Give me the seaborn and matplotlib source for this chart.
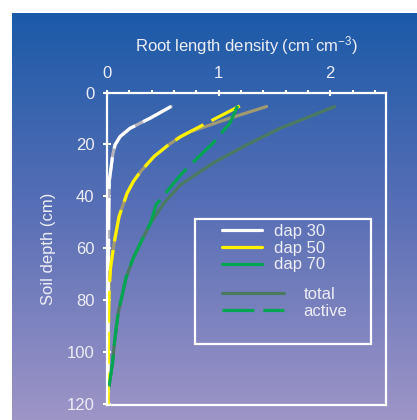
import numpy as np
import pandas as pd
import matplotlib
matplotlib.use('Agg')
import matplotlib.pyplot as plt
import seaborn as sns
from matplotlib.colors import LinearSegmentedColormap
from matplotlib.lines import Line2D
from matplotlib.patches import Rectangle

# values: root length density (cm cm-3) vs soil depth (cm)
DAP30_TOTAL_RLD = [0.574, 0.386, 0.206, 0.117, 0.072, 0.051, 0.036, 0.02, 0.015, 0.012, 0.01, 0.01]
DAP30_TOTAL_DEPTH = [5.4, 9.9, 13.8, 17, 20.2, 24, 29, 34.3, 50, 75, 100, 120]
DAP30_ACTIVE_RLD = DAP30_TOTAL_RLD
DAP30_ACTIVE_DEPTH = DAP30_TOTAL_DEPTH

DAP50_TOTAL_RLD = [1.43, 1.10, 0.74, 0.66, 0.55, 0.42, 0.30, 0.236, 0.18, 0.108, 0.069, 0.033, 0.02,
                   0.015, 0.012, 0.01]
DAP50_TOTAL_DEPTH = [5.4, 9.9, 15.2, 17, 20.2, 24.7, 30.5, 34.3, 38.8, 47.8, 56.7, 67, 75, 85, 100, 120]
DAP50_ACTIVE_RLD = [1.19, 0.86, 0.74, 0.66, 0.55, 0.42, 0.30, 0.236, 0.18, 0.108, 0.069, 0.033, 0.02,
                    0.015, 0.012, 0.01]
DAP50_ACTIVE_DEPTH = [5.2, 12.5, 15.2, 17, 20.2, 24.7, 30.5, 34.3, 38.8, 47.8, 56.7, 67, 75, 85, 100, 120]

DAP70_TOTAL_RLD = [2.04, 1.85, 1.55, 1.25, 0.95, 0.66, 0.51, 0.39, 0.30, 0.23, 0.17, 0.10, 0.07, 0.05, 0.012]
DAP70_TOTAL_DEPTH = [5.4, 8.7, 13.8, 20.2, 27.2, 35.5, 42.6, 50.3, 58, 64.4, 71.5, 85, 95, 104, 115]
DAP70_ACTIVE_RLD = [1.17, 1.10, 0.95, 0.84, 0.66, 0.53, 0.44, 0.39, 0.30, 0.23, 0.17, 0.10, 0.07, 0.05, 0.012]
DAP70_ACTIVE_DEPTH = [5.2, 11.9, 19.5, 24, 31.7, 38.5, 43.3, 50.3, 58, 64.4, 71.5, 85, 95, 104, 115]

X_TICKS = [0, 1, 2]
Y_TICKS = [0, 20, 40, 60, 80, 100, 120]

TXT = '#ededf5'
COLORS = {
    'dap 30 total': '#b4b4bc', 'dap 30 active': '#ffffff',
    'dap 50 total': '#a09a72', 'dap 50 active': '#fff200',
    'dap 70 total': '#4b7a62', 'dap 70 active': '#00a651',
}
LW = 2.3
DASH = (0, (10, 2.8))


def build_df():
    rows = []
    curves = [
        ('dap 30', 'total', DAP30_TOTAL_RLD, DAP30_TOTAL_DEPTH),
        ('dap 50', 'total', DAP50_TOTAL_RLD, DAP50_TOTAL_DEPTH),
        ('dap 70', 'total', DAP70_TOTAL_RLD, DAP70_TOTAL_DEPTH),
        ('dap 30', 'active', DAP30_ACTIVE_RLD, DAP30_ACTIVE_DEPTH),
        ('dap 50', 'active', DAP50_ACTIVE_RLD, DAP50_ACTIVE_DEPTH),
        ('dap 70', 'active', DAP70_ACTIVE_RLD, DAP70_ACTIVE_DEPTH),
    ]
    for dap, kind, xs, ys in curves:
        for x, y in zip(xs, ys):
            rows.append({'curve': dap + ' ' + kind, 'kind': kind, 'rld': x, 'depth': y})
    return pd.DataFrame(rows)


df = build_df()

sns.set_theme(style='ticks')
plt.rcParams['font.family'] = ['Liberation Sans', 'DejaVu Sans']
plt.rcParams['mathtext.fontset'] = 'custom'
plt.rcParams['mathtext.rm'] = 'Liberation Sans'
plt.rcParams['mathtext.it'] = 'Liberation Sans'

fig = plt.figure(figsize=(4.17, 4.20), dpi=100)
fig.patch.set_facecolor('white')

# gradient background panel
bg = fig.add_axes([12 / 417, 0, 405 / 417, 407 / 420], zorder=-5)
cmap = LinearSegmentedColormap.from_list('bg', ['#1b5aa8', '#5a70b6', '#9e95c7'])
bg.imshow(np.linspace(0, 1, 256).reshape(-1, 1), aspect='auto', cmap=cmap,
          extent=[0, 1, 0, 1], origin='upper')
bg.set_axis_off()

ax = fig.add_axes([107 / 417, 15 / 420, 279 / 417, 312.5 / 420])
ax.set_facecolor('none')

# totals first, actives dashed on top
for kind, ls in [('total', '-'), ('active', DASH)]:
    sub = df[df['kind'] == kind]
    for curve in sub['curve'].unique():
        sns.lineplot(ax=ax, data=sub[sub['curve'] == curve], x='rld', y='depth',
                     sort=False, estimator=None, color=COLORS[curve],
                     linestyle=ls, linewidth=LW, legend=False,
                     solid_joinstyle='round', dash_joinstyle='round')

ax.set_xlim(0, 2.5)
ax.set_ylim(120.4, 0)
ax.xaxis.tick_top()
ax.xaxis.set_label_position('top')
ax.set_xticks(X_TICKS)
ax.set_xticks(np.arange(0.2, 2.5, 0.2), minor=True)
ax.set_yticks(Y_TICKS)
ax.tick_params(axis='x', which='major', direction='inout', length=5, width=1.5,
               colors='white', labelcolor=TXT, labelsize=12, pad=6)
ax.tick_params(axis='x', which='minor', direction='out', length=2.5, width=1.5, colors='white')
ax.tick_params(axis='y', which='major', direction='inout', length=6, width=1.5,
               colors='white', labelcolor=TXT, labelsize=12, pad=6)
for s in ax.spines.values():
    s.set_color('white')
    s.set_linewidth(1.6)
ax.set_xlabel('Root length density (cm\u02d9cm$^{-3}$)', color=TXT, fontsize=12, labelpad=10)
ax.set_ylabel('Soil depth (cm)', color=TXT, fontsize=12, labelpad=8)

# legend box
box = Rectangle((195 / 417, 1 - 344 / 420), 176 / 417, 125 / 420, transform=fig.transFigure,
                fill=False, edgecolor='white', linewidth=1.6)
fig.patches.append(box)

h1 = [Line2D([], [], color=COLORS['dap 30 active'], lw=LW),
      Line2D([], [], color=COLORS['dap 50 active'], lw=LW),
      Line2D([], [], color=COLORS['dap 70 active'], lw=LW)]
leg1 = ax.legend(h1, ['dap 30', 'dap 50', 'dap 70'], frameon=False, fontsize=12,
                 handlelength=2.4, handletextpad=0.7, labelspacing=0.1,
                 loc='upper left', bbox_to_anchor=(222 / 417, 1 - 224 / 420),
                 bbox_transform=fig.transFigure, borderpad=0, borderaxespad=0, labelcolor=TXT)
ax.add_artist(leg1)
h2 = [Line2D([], [], color=COLORS['dap 70 total'], lw=LW),
      Line2D([], [], color=COLORS['dap 70 active'], lw=LW, linestyle=DASH)]
ax.legend(h2, ['total', 'active'], frameon=False, fontsize=12,
          handlelength=3.7, handletextpad=1.2, labelspacing=0.1,
          loc='upper left', bbox_to_anchor=(222 / 417, 1 - 287 / 420),
          bbox_transform=fig.transFigure, borderpad=0, borderaxespad=0, labelcolor=TXT)

fig.savefig('out.png', dpi=100)
